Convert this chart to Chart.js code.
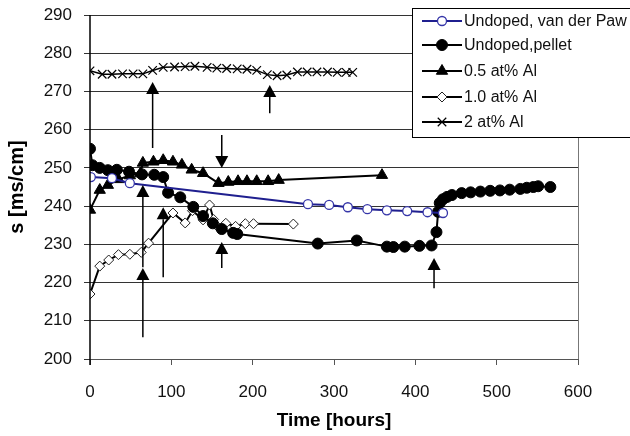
<!DOCTYPE html>
<html>
<head>
<meta charset="utf-8">
<script src="https://cdn.jsdelivr.net/npm/chart.js@4.4.1/dist/chart.umd.min.js"></script>
<style>
  html, body { margin: 0; padding: 0; background: #fff; }
  #wrap { width: 630px; height: 436px; position: relative; }
</style>
</head>
<body>
<div id="wrap"><canvas id="chart" width="630" height="436"></canvas></div>
<script>
// series: hours and s [ms/cm]
const vdpHours = [1, 27, 49, 268, 294, 317, 341, 365, 390, 415, 434];
const vdpValues = [247.6, 247.3, 246, 240.5, 240.3, 239.7, 239.2, 238.9, 238.7, 238.4, 238.2];

const pelletHours = [0, 3, 12, 22, 33, 48, 64, 79, 90, 96, 111, 127, 139, 151, 162, 176, 181,
  280, 328, 365, 373, 387, 405, 420, 426, 428, 430, 434, 439, 445, 457, 468, 480, 492, 504,
  516, 529, 537, 545, 551, 566];
const pelletValues = [255, 250.7, 250, 249.4, 249.5, 249, 248.3, 248.2, 247.6, 243.5, 242.3,
  239.8, 237.4, 235.5, 234, 233, 232.7, 230.2, 231, 229.4, 229.3, 229.4, 229.6, 229.7, 233.2,
  238.5, 240.8, 241.8, 242.4, 242.9, 243.4, 243.6, 243.8, 244, 244.1, 244.3, 244.5, 244.8,
  245, 245.2, 245];

const al05Hours = [0, 12, 22, 35, 49, 62, 65, 78, 90, 102, 113, 125, 139, 158, 170, 182, 193,
  205, 219, 232, 359];
const al05Values = [239, 244.2, 245.5, 247, 248, 248.5, 251.3, 251.6, 252, 251.6, 250.8, 249.5,
  248.6, 246, 246.3, 246.5, 246.5, 246.5, 246.5, 246.8, 248.1];

const al10Hours = [0, 12, 23, 35, 49, 63, 72, 102, 117, 126, 139, 147, 152, 156, 167, 179, 191,
  201, 250];
const al10Values = [217, 224.3, 225.9, 227.3, 227.4, 227.9, 230.3, 238.2, 235.6, 238.8, 236.4,
  240.3, 236.5, 234.8, 235.5, 234.7, 235.4, 235.4, 235.3];

const al2Hours = [0, 15, 27, 40, 53, 65, 77, 90, 104, 117, 129, 144, 156, 168, 181, 193, 205,
  218, 230, 242, 255, 267, 279, 292, 304, 315, 323];
const al2Values = [275.4, 274.5, 274.5, 274.6, 274.6, 274.6, 275.5, 276.3, 276.4, 276.5, 276.6,
  276.3, 276.1, 276, 275.9, 275.8, 275.5, 274.4, 274.1, 274.3, 275.1, 275.1, 275.1, 275.1, 275,
  275, 275];

const seriesNames = ['Undoped, van der Paw', 'Undoped,pellet', '0.5 at% Al', '1.0 at% Al', '2 at% Al'];

// annotation arrows: hour, tail value, tip value
const arrowHours = [77, 221, 162, 65, 65, 90, 162, 423];
const arrowTails = [255.2, 264.3, 258.6, 224, 205.7, 221.4, 223.8, 218.5];
const arrowTips = [272.5, 271.7, 250, 245.5, 223.8, 239.7, 230.6, 226.4];

const xTicks = [0, 100, 200, 300, 400, 500, 600];
const yTicks = [200, 210, 220, 230, 240, 250, 260, 270, 280, 290];

const FONT = "'Liberation Sans', Arial, sans-serif";
const BLUE = '#1f1f8f';

function pts(xs, ys) {
  return xs.map((x, i) => ({ x: x, y: ys[i] }));
}

const datasets = [
  {
    label: seriesNames[0], data: pts(vdpHours, vdpValues),
    borderColor: BLUE, borderWidth: 2, pointStyle: 'circle', pointRadius: 4.5,
    pointBackgroundColor: '#fff', pointBorderColor: '#3535a8', pointBorderWidth: 1.3
  },
  {
    label: seriesNames[1], data: pts(pelletHours, pelletValues),
    borderColor: '#000', borderWidth: 2, pointStyle: 'circle', pointRadius: 5.5,
    pointBackgroundColor: '#000', pointBorderColor: '#000', pointBorderWidth: 1
  },
  {
    label: seriesNames[2], data: pts(al05Hours, al05Values),
    borderColor: '#000', borderWidth: 2, pointStyle: 'triangle', pointRadius: 6.5,
    pointBackgroundColor: '#000', pointBorderColor: '#000', pointBorderWidth: 1
  },
  {
    label: seriesNames[3], data: pts(al10Hours, al10Values),
    borderColor: '#000', borderWidth: 2, pointStyle: 'rectRot', pointRadius: 5,
    pointBackgroundColor: '#fff', pointBorderColor: '#222', pointBorderWidth: 1
  },
  {
    label: seriesNames[4], data: pts(al2Hours, al2Values),
    borderColor: '#000', borderWidth: 1.5, pointStyle: 'crossRot', pointRadius: 6,
    pointBackgroundColor: '#000', pointBorderColor: '#000', pointBorderWidth: 1.2
  }
];

// axis frame, arrows and the boxed legend
const extras = {
  id: 'extras',
  afterDatasetsDraw(chart) {
    const ctx = chart.ctx;
    const xs = chart.scales.x, ys = chart.scales.y;
    const area = chart.chartArea;
    ctx.save();
    // left axis and right frame
    ctx.strokeStyle = '#000';
    ctx.lineWidth = 1.5;
    ctx.beginPath();
    ctx.moveTo(area.left, area.top);
    ctx.lineTo(area.left, area.bottom + 6);
    ctx.stroke();
    ctx.strokeStyle = '#777';
    ctx.lineWidth = 1;
    ctx.beginPath();
    ctx.moveTo(Math.round(area.right) + 0.5, area.top);
    ctx.lineTo(Math.round(area.right) + 0.5, area.bottom);
    ctx.stroke();

    ctx.strokeStyle = '#000';
    ctx.fillStyle = '#000';
    ctx.lineWidth = 1.5;
    arrowHours.forEach((h, i) => {
      const px = xs.getPixelForValue(h);
      const yTail = ys.getPixelForValue(arrowTails[i]);
      const yTip = ys.getPixelForValue(arrowTips[i]);
      const dir = yTip < yTail ? 1 : -1;
      const headLen = 12;
      ctx.beginPath();
      ctx.moveTo(px, yTail);
      ctx.lineTo(px, yTip + dir * headLen);
      ctx.stroke();
      ctx.beginPath();
      ctx.moveTo(px, yTip);
      ctx.lineTo(px - 6.5, yTip + dir * headLen);
      ctx.lineTo(px + 6.5, yTip + dir * headLen);
      ctx.closePath();
      ctx.fill();
    });

    // legend box
    const bx = 412, by = 8, bw = 222, bh = 129;
    ctx.fillStyle = '#fff';
    ctx.fillRect(bx, by, bw, bh);
    ctx.strokeStyle = '#000';
    ctx.lineWidth = 1;
    ctx.strokeRect(bx + 0.5, by + 0.5, bw, bh);
    const rows = [21, 45, 71, 97, 122];
    ctx.font = '16px ' + FONT;
    ctx.textBaseline = 'middle';
    chart.data.datasets.forEach((ds, i) => {
      const y = rows[i];
      ctx.strokeStyle = ds.borderColor;
      ctx.lineWidth = 2;
      ctx.beginPath();
      ctx.moveTo(422, y);
      ctx.lineTo(462, y);
      ctx.stroke();
      ctx.fillStyle = ds.pointBackgroundColor;
      ctx.strokeStyle = ds.pointBorderColor;
      ctx.lineWidth = ds.pointBorderWidth;
      Chart.helpers.drawPoint(ctx, {
        pointStyle: ds.pointStyle, radius: ds.pointRadius, borderWidth: ds.pointBorderWidth, rotation: 0
      }, 442, y);
      ctx.fillStyle = '#111';
      ctx.fillText(ds.label, 464, y + 1);
    });
    ctx.restore();
  }
};

new Chart(document.getElementById('chart').getContext('2d'), {
  type: 'line',
  data: { datasets: datasets },
  options: {
    responsive: false,
    animation: false,
    layout: { padding: { left: 0, right: 52, top: 15, bottom: 0 } },
    plugins: { legend: { display: false }, tooltip: { enabled: false } },
    elements: { line: { tension: 0, fill: false } },
    scales: {
      x: {
        type: 'linear', min: 0, max: 600,
        afterBuildTicks: s => { s.ticks = xTicks.map(v => ({ value: v })); },
        afterFit: s => { s.height = 77; s.paddingLeft = 0; s.paddingRight = 0; },
        ticks: { font: { family: FONT, size: 17 }, color: '#111', padding: 17 },
        grid: { drawOnChartArea: false, drawTicks: true, tickLength: 6, color: '#555' },
        border: { color: '#555', width: 1 },
        title: {
          display: true, text: 'Time [hours]', color: '#000',
          font: { family: FONT, size: 19, weight: 'bold' }, padding: { top: 0, bottom: 4 }
        }
      },
      y: {
        min: 200, max: 290,
        afterBuildTicks: s => { s.ticks = yTicks.map(v => ({ value: v })); },
        afterFit: s => { s.width = 90; s.paddingTop = 0; s.paddingBottom = 0; },
        ticks: { font: { family: FONT, size: 17 }, color: '#111', padding: 12 },
        grid: { color: '#333', lineWidth: 1, tickLength: 6 },
        border: { display: false },
        title: {
          display: true, text: 's [ms/cm]', color: '#000',
          font: { family: FONT, size: 20, weight: 'bold' }, padding: { top: 5, bottom: 0 }
        }
      }
    }
  },
  plugins: [extras]
});
</script>
</body>
</html>
